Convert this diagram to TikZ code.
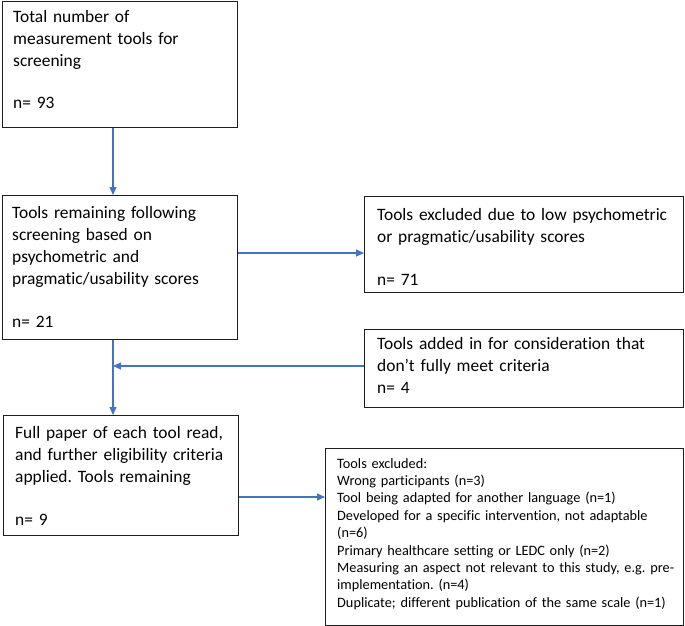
\documentclass[tikz,border=0pt]{standalone}
\usepackage{fontspec}
\setmainfont{Carlito}[Ligatures=NoCommon]
\usetikzlibrary{arrows.meta,calc}
\definecolor{arrblue}{RGB}{68,114,196}
\definecolor{boxline}{RGB}{30,30,30}
\tikzset{
  box/.style={draw=boxline, line width=1.1pt, inner sep=0pt, anchor=north west},
  txt/.style={anchor=base west, align=left, inner sep=0pt, font=\fontsize{17.4}{22}\selectfont},
  smalltxt/.style={anchor=base west, align=left, inner sep=0pt, font=\fontsize{14.3}{17.4}\selectfont},
  arr/.style={draw=arrblue, line width=1.1pt, -{Triangle[length=8pt,width=7pt]}}
}
\frenchspacing
\begin{document}
\frenchspacing
\begin{tikzpicture}[x=1pt,y=-1pt]
\useasboundingbox (0,0) rectangle (685,626);
% boxes
\node[box, minimum width=235, minimum height=126.5] (b1) at (2,0.8) {};
\node[box, minimum width=235, minimum height=144] (b2) at (2,195) {};
\node[box, minimum width=319, minimum height=96] (b3) at (364,196) {};
\node[box, minimum width=319, minimum height=78] (b4) at (364,329) {};
\node[box, minimum width=235, minimum height=120] (b5) at (3,415) {};
\node[box, minimum width=358, minimum height=176.5] (b6) at (325,448) {};
% texts
\node[txt, text width=224] (t1) at (13,23) {Total number of\\ measurement tools for\\ screening\\[20pt] n= 93};
\node[txt, text width=224] (t2) at (12,218) {Tools remaining following\\ screening based on\\ psychometric and\\ pragmatic/usability scores\\[21pt] n= 21};
\node[txt, text width=305] (t3) at (377,220) {Tools excluded due to low psychometric\\ or pragmatic/usability scores\\[21pt] n= 71};
\node[txt, text width=305] (t4) at (377,349) {Tools added in for consideration that\\ don’t fully meet criteria\\ n= 4};
\node[txt, text width=224] (t5) at (15,438) {Full paper of each tool read,\\ and further eligibility criteria\\ applied. Tools remaining\\[21pt] n= 9};
\node[smalltxt, text width=346] (t6) at (337,468) {Tools excluded:\\ Wrong participants (n=3)\\ Tool being adapted for another language (n=1)\\ Developed for a specific intervention, not adaptable\\ (n=6)\\ Primary healthcare setting or LEDC only (n=2)\\ Measuring an aspect not relevant to this study, e.g. pre-\\ implementation. (n=4)\\ Duplicate; different publication of the same scale (n=1)};
% helper coordinates
\coordinate (vx) at (113,0);
\coordinate (h3) at (0,253);
\coordinate (h4) at (0,366);
\coordinate (h5) at (0,497);
% connectors
\draw[arr] (b1.south -| vx) -- (b2.north -| vx);
\draw[arr] (b2.south -| vx) -- (b5.north -| vx);
\draw[arr] (b2.east |- h3) -- (b3.west |- h3);
\draw[arr] (b4.west |- h4) -- (vx |- h4);
\draw[arr] (b5.east |- h5) -- (b6.west |- h5);
\end{tikzpicture}
\end{document}
